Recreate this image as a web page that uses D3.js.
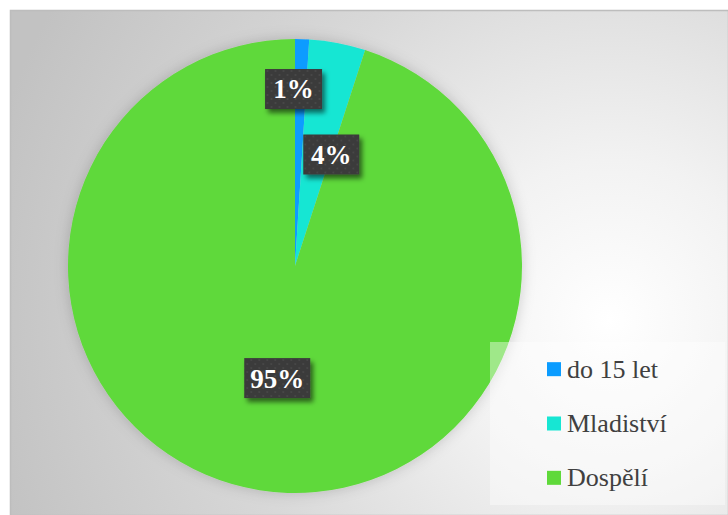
<!DOCTYPE html>
<html>
<head>
<meta charset="utf-8">
<script src="https://cdn.jsdelivr.net/npm/d3@7"></script>
<style>
  body { margin: 0; background: #fff; }
  svg { display: block; }
</style>
</head>
<body>
<div id="chart"></div>
<script>
// data
var categories = ["do 15 let", "Mladiství", "Dospělí"];
var values = [1.0, 4.0, 95.0];
var labels = ["1%", "4%", "95%"];
var colors = ["#0b9cff", "#17e6d3", "#5fd93a"];

var W = 728, H = 515;
var cx = 295, cy = 266, R = 227;
var serif = "'Liberation Serif', 'Times New Roman', serif";

var svg = d3.select("#chart").append("svg")
    .attr("width", W)
    .attr("height", H);

var defs = svg.append("defs");

var bg = defs.append("radialGradient")
    .attr("id", "bg")
    .attr("gradientUnits", "userSpaceOnUse")
    .attr("cx", 610).attr("cy", 320).attr("r", 640);
bg.append("stop").attr("offset", "0%").attr("stop-color", "#ffffff");
bg.append("stop").attr("offset", "25%").attr("stop-color", "#f2f2f2");
bg.append("stop").attr("offset", "60%").attr("stop-color", "#d8d8d8");
bg.append("stop").attr("offset", "100%").attr("stop-color", "#c2c2c2");

var pieShadow = defs.append("filter").attr("id", "pieShadow")
    .attr("x", "-20%").attr("y", "-20%").attr("width", "140%").attr("height", "140%");
pieShadow.append("feDropShadow")
    .attr("dx", 0).attr("dy", 0).attr("stdDeviation", 7)
    .attr("flood-color", "#000").attr("flood-opacity", 0.18);

var boxShadow = defs.append("filter").attr("id", "boxShadow")
    .attr("x", "-20%").attr("y", "-20%").attr("width", "150%").attr("height", "150%");
boxShadow.append("feDropShadow")
    .attr("dx", 3).attr("dy", 4).attr("stdDeviation", 2.5)
    .attr("flood-color", "#000").attr("flood-opacity", 0.55);

var dots = defs.append("pattern").attr("id", "dots")
    .attr("patternUnits", "userSpaceOnUse")
    .attr("width", 8).attr("height", 8);
dots.append("rect").attr("width", 8).attr("height", 8).attr("fill", "#3a3a3a");
dots.append("circle").attr("cx", 2).attr("cy", 2).attr("r", 1).attr("fill", "#4a4a4a");
dots.append("circle").attr("cx", 6).attr("cy", 6).attr("r", 1).attr("fill", "#4a4a4a");

// background
svg.append("rect")
    .attr("x", 10.5).attr("y", 10.5)
    .attr("width", W - 10).attr("height", H - 10)
    .attr("fill", "url(#bg)")
    .attr("stroke", "#bdbdbd")
    .attr("stroke-width", 1.5);

var pie = d3.pie().sort(null).value(function(d) { return d; });
var arcs = pie(values);

var arc = d3.arc().innerRadius(0).outerRadius(R);

var g = svg.append("g")
    .attr("transform", "translate(" + cx + "," + cy + ")");

g.append("g")
    .attr("filter", "url(#pieShadow)")
  .selectAll("path")
    .data(arcs)
  .enter().append("path")
    .attr("d", arc)
    .attr("fill", function(d, i) { return colors[i]; });

// data labels
var labelR = [0.78, 0.5, 0.5];
var labelNudge = [-7, 15, 0];
var boxW = [57, 56, 66], boxH = 40;

var lab = g.selectAll(".lab")
    .data(arcs)
  .enter().append("g")
    .attr("class", "lab")
    .attr("transform", function(d, i) {
      var a = (d.startAngle + d.endAngle) / 2;
      var r = R * labelR[i];
      var x = Math.sin(a) * r + labelNudge[i];
      var y = -Math.cos(a) * r;
      return "translate(" + x + "," + y + ")";
    });

lab.append("rect")
    .attr("x", function(d, i) { return -boxW[i] / 2; })
    .attr("y", -boxH / 2)
    .attr("width", function(d, i) { return boxW[i]; })
    .attr("height", boxH)
    .attr("fill", "url(#dots)")
    .attr("filter", "url(#boxShadow)");

lab.append("text")
    .attr("text-anchor", "middle")
    .attr("dy", "0.35em")
    .style("font-family", serif)
    .style("font-weight", "bold")
    .style("font-size", "27px")
    .style("fill", "#fff")
    .text(function(d, i) { return labels[i]; });

// legend
var legend = svg.append("g")
    .attr("transform", "translate(490,342)");

legend.append("rect")
    .attr("width", 235).attr("height", 163)
    .attr("fill", "#ffffff")
    .attr("fill-opacity", 0.4);

var ly = d3.scaleBand()
    .domain(categories)
    .range([0, 163]);

var item = legend.selectAll(".legend")
    .data(categories)
  .enter().append("g")
    .attr("class", "legend")
    .attr("transform", function(d) {
      return "translate(57," + (ly(d) + ly.bandwidth() / 2) + ")";
    });

item.append("rect")
    .attr("x", 0).attr("y", -7)
    .attr("width", 14).attr("height", 14)
    .attr("fill", function(d, i) { return colors[i]; });

item.append("text")
    .attr("x", 20)
    .attr("dy", "0.33em")
    .style("font-family", serif)
    .style("font-size", "26px")
    .style("fill", "#404040")
    .text(function(d) { return d; });
</script>
</body>
</html>
